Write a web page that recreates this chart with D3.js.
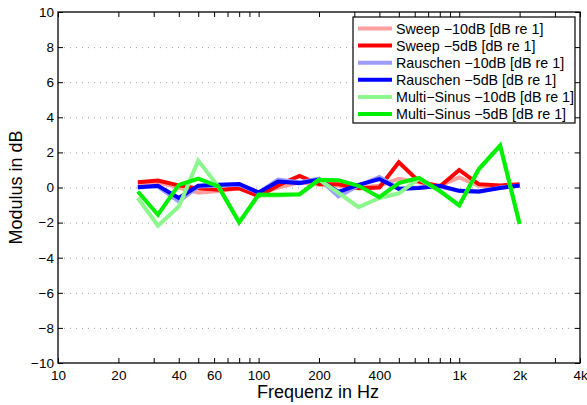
<!DOCTYPE html>
<html>
<head>
<meta charset="utf-8">
<script src="https://cdn.jsdelivr.net/npm/d3@7"></script>
<style>
  body { margin: 0; background: #fff; }
  svg { display: block; font-family: "Liberation Sans", Arial, sans-serif; }
</style>
</head>
<body>
<div id="chart"></div>
<script>
// third-octave band centres (Hz)
const frequencies = [25, 31.5, 40, 50, 63, 80, 100, 125, 160, 200, 250, 315, 400, 500, 630, 800, 1000, 1250, 1600, 2000]

const sweep10 = [0.2, 0.3, 0.0, -0.3, -0.2, -0.05, -0.35, 0.0, 0.3, 0.15, 0.1, 0.0, 0.1, 0.5, 0.3, 0.1, 0.57, 0.1, 0.05, 0.15]
const sweep5 = [0.3, 0.4, 0.12, -0.05, -0.13, -0.05, -0.5, 0.12, 0.66, 0.2, 0.19, -0.04, 0.0, 1.44, 0.34, 0.06, 1.0, 0.19, 0.11, 0.19]
const rauschen10 = [0.0, 0.05, -0.8, 0.05, 0.1, 0.15, -0.3, 0.45, 0.3, 0.5, -0.5, 0.1, 0.6, -0.05, 0.0, 0.05, -0.2, -0.25, 0.0, 0.1]
const rauschen5 = [0.02, 0.1, -0.6, 0.1, 0.15, 0.2, -0.28, 0.34, 0.25, 0.45, -0.25, 0.15, 0.48, -0.08, -0.03, 0.1, -0.19, -0.23, -0.03, 0.12]
const multisinus10 = [-0.6, -2.18, -1.08, 1.53, 0.05, -1.95, -0.45, -0.45, -0.4, 0.45, -0.3, -1.12, -0.6, -0.33, 0.5, -0.2, -1.0, 1.0, 2.35, -2.05]
const multisinus5 = [-0.23, -1.55, 0.15, 0.5, 0.06, -2.0, -0.4, -0.42, -0.38, 0.44, 0.42, 0.1, -0.55, 0.25, 0.55, -0.2, -1.02, 1.05, 2.4, -2.08]

const seriesNames = [
  "Sweep \u221210dB [dB re 1]",
  "Sweep \u22125dB [dB re 1]",
  "Rauschen \u221210dB [dB re 1]",
  "Rauschen \u22125dB [dB re 1]",
  "Multi\u2212Sinus \u221210dB [dB re 1]",
  "Multi\u2212Sinus \u22125dB [dB re 1]",
]
const seriesValues = [sweep10, sweep5, rauschen10, rauschen5, multisinus10, multisinus5]
const seriesColors = ["#ff9f9f", "#ff0000", "#9c9cff", "#0000ff", "#8cf78c", "#00f000"]

const xTicks = [10, 20, 30, 40, 50, 60, 70, 80, 90, 100, 200, 300, 400, 500, 600, 700, 800, 900, 1000, 2000, 3000, 4000]
const xTickLabels = { 10: "10", 20: "20", 40: "40", 60: "60", 100: "100", 200: "200", 400: "400", 1000: "1k", 2000: "2k", 4000: "4k" }
const yTicks = [-10, -8, -6, -4, -2, 0, 2, 4, 6, 8, 10]

// dimensions
let dimensions = {
  width: 587,
  height: 405,
  margin: { top: 12, right: 7, bottom: 42, left: 58 },
}
dimensions.boundedWidth = dimensions.width - dimensions.margin.left - dimensions.margin.right
dimensions.boundedHeight = dimensions.height - dimensions.margin.top - dimensions.margin.bottom

const svg = d3.select("#chart")
  .append("svg")
    .attr("width", dimensions.width)
    .attr("height", dimensions.height)

const bounds = svg.append("g")
    .attr("transform", `translate(${dimensions.margin.left}, ${dimensions.margin.top})`)

// scales
const xScale = d3.scaleLog()
  .domain([10, 4000])
  .range([0, dimensions.boundedWidth])

const yScale = d3.scaleLinear()
  .domain([-10, 10])
  .range([dimensions.boundedHeight, 0])

// grid (dotted, y only)
bounds.append("g")
  .selectAll("line")
  .data(yTicks.slice(1, -1))
  .join("line")
    .attr("x1", 0)
    .attr("x2", dimensions.boundedWidth)
    .attr("y1", d => yScale(d) + 0.5)
    .attr("y2", d => yScale(d) + 0.5)
    .attr("stroke", "#a0a0a0")
    .attr("stroke-width", 1)
    .attr("stroke-dasharray", "1,5")

// lines
const lineGenerator = d3.line()
  .x((d, i) => xScale(frequencies[i]))
  .y(d => yScale(d))

bounds.append("g")
  .selectAll("path")
  .data(seriesValues)
  .join("path")
    .attr("d", lineGenerator)
    .attr("fill", "none")
    .attr("stroke", (d, i) => seriesColors[i])
    .attr("stroke-width", 4)
    .attr("stroke-linejoin", "miter")

// axes, ticks pointing inward
const xAxisBottom = d3.axisBottom(xScale)
  .tickValues(xTicks)
  .tickSize(-5)
  .tickSizeOuter(0)
  .tickPadding(7)
  .tickFormat(d => xTickLabels[d] || "")

const xAxisTop = d3.axisTop(xScale)
  .tickValues(xTicks)
  .tickSize(-5)
  .tickSizeOuter(0)
  .tickFormat("")

const yAxisLeft = d3.axisLeft(yScale)
  .tickValues(yTicks)
  .tickSize(-5)
  .tickSizeOuter(0)
  .tickPadding(4)
  .tickFormat(d => d < 0 ? "\u2212" + Math.abs(d) : d)

const yAxisRight = d3.axisRight(yScale)
  .tickValues(yTicks)
  .tickSize(-5)
  .tickSizeOuter(0)
  .tickFormat("")

const styleAxis = g => {
  g.select(".domain").remove()
  g.selectAll(".tick line").attr("stroke", "#000")
  g.selectAll(".tick text")
    .attr("fill", "#000")
    .style("font-size", "13.5px")
    .style("font-family", "'Liberation Sans', Arial, sans-serif")
}

bounds.append("g")
  .attr("transform", `translate(0, ${dimensions.boundedHeight})`)
  .call(xAxisBottom)
  .call(styleAxis)

bounds.append("g")
  .call(xAxisTop)
  .call(styleAxis)

bounds.append("g")
  .call(yAxisLeft)
  .call(styleAxis)

bounds.append("g")
  .attr("transform", `translate(${dimensions.boundedWidth}, 0)`)
  .call(yAxisRight)
  .call(styleAxis)

// frame
bounds.append("rect")
  .attr("x", 0)
  .attr("y", 0)
  .attr("width", dimensions.boundedWidth)
  .attr("height", dimensions.boundedHeight)
  .attr("fill", "none")
  .attr("stroke", "#000")
  .attr("stroke-width", 1.3)

// axis labels
svg.append("text")
  .attr("x", dimensions.margin.left + xScale(Math.sqrt(10 * 4000)) - 1)
  .attr("y", 398)
  .attr("text-anchor", "middle")
  .style("font-size", "18px")
  .text("Frequenz in Hz")

svg.append("text")
  .attr("transform", `translate(22, ${dimensions.margin.top + yScale(0)}) rotate(-90)`)
  .attr("text-anchor", "middle")
  .style("font-size", "18px")
  .text("Modulus in dB")

// legend
const legend = svg.append("g")
  .attr("transform", "translate(353, 17)")

legend.append("rect")
  .attr("width", 222)
  .attr("height", 106)
  .attr("fill", "#fff")
  .attr("stroke", "#000")
  .attr("stroke-width", 1.2)

const legendItems = legend.selectAll(".legend-item")
  .data(seriesNames)
  .join("g")
    .attr("class", "legend-item")
    .attr("transform", (d, i) => `translate(0, ${11.5 + i * 17.1})`)

legendItems.append("line")
  .attr("x1", 5)
  .attr("x2", 39)
  .attr("stroke", (d, i) => seriesColors[i])
  .attr("stroke-width", 4)

legendItems.append("text")
  .attr("x", 43)
  .attr("dy", "0.35em")
  .style("font-size", "14.3px")
  .text(d => d)
</script>
</body>
</html>
